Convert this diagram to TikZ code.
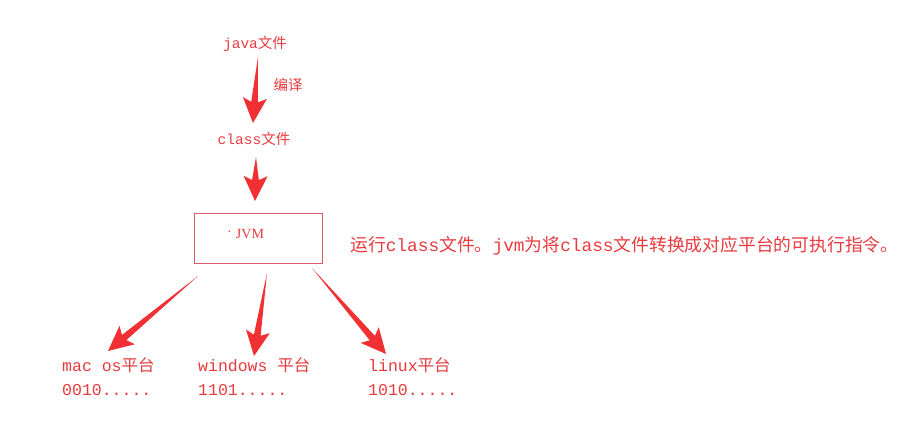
\documentclass[tikz,border=0pt]{standalone}
\usepackage{fontspec}
\usetikzlibrary{calc}
\newfontfamily\latmono{Liberation Mono}
\newfontfamily\latserif{Liberation Serif}
\newfontfamily\cjk{Noto Sans CJK SC}
\definecolor{txtred}{RGB}{232,58,62}
\definecolor{arrred}{RGB}{240,48,50}
\definecolor{boxred}{RGB}{222,90,105}
\newcommand\taperarrow[2]{%
  \fill[arrred] (#1)
    -- ($($(#2)!21pt!(#1)$)!3.4pt!90:(#1)$)
    -- ($($(#2)!25pt!(#1)$)!12pt!90:(#1)$)
    -- (#2)
    -- ($($(#2)!25pt!(#1)$)!12pt!-90:(#1)$)
    -- ($($(#2)!21pt!(#1)$)!3.4pt!-90:(#1)$)
    -- cycle;}
\tikzset{
  lbl/.style={text=txtred, inner sep=0pt, font=\fontsize{14.5}{16}\selectfont},
  plat/.style={text=txtred, inner sep=0pt, anchor=north west, align=left, font=\fontsize{16.5}{24}\selectfont},
  jvmbox/.style={draw=boxred, line width=0.9pt, minimum width=128pt, minimum height=50pt, inner sep=0pt}
}
\begin{document}
\begin{tikzpicture}[x=1pt,y=-1pt]
\useasboundingbox (0,0) rectangle (905,428);
\node[lbl] (java) at (255,44) {\latmono java\cjk 文件};
\node[lbl] (comp) at (288,85) {\cjk 编译};
\node[lbl] (class) at (254,139) {\latmono class\cjk 文件};
\node[jvmbox] (jvm) at (258.5,238) {};
\node[text=txtred, inner sep=0pt, font=\fontsize{14}{16}\selectfont] (dot) at (229.5,234) {\latserif ·};
\node[text=txtred, inner sep=0pt, font=\fontsize{14}{16}\selectfont] (jvmtxt) at (250,234) {\latserif JVM};
\node[text=txtred, inner sep=0pt, anchor=west, font=\fontsize{17.8}{20}\selectfont] (desc) at (350,246)
  {\cjk 运行\latmono class\cjk 文件。\latmono jvm\cjk 为将\latmono class\cjk 文件转换成对应平台的可执行指令。};
\node[plat] (mac) at (62,357) {\latmono mac os\cjk 平台\\\latmono 0010.....};
\node[plat] (win) at (198,357) {\latmono windows \cjk 平台\\\latmono 1101.....};
\node[plat] (lin) at (368,357) {\latmono linux\cjk 平台\\\latmono 1010.....};
\coordinate (a1s) at (258,57);
\coordinate (a1e) at (253,123);
\coordinate (a2s) at (256,157);
\coordinate (a2e) at (255,201);
\coordinate (a3s) at (198,276);
\coordinate (a3e) at (108,351);
\coordinate (a4s) at (267,273);
\coordinate (a4e) at (254,356);
\coordinate (a5s) at (312,268);
\coordinate (a5e) at (386,354);
\taperarrow{a1s}{a1e}
\taperarrow{a2s}{a2e}
\taperarrow{a3s}{a3e}
\taperarrow{a4s}{a4e}
\taperarrow{a5s}{a5e}
\end{tikzpicture}
\end{document}
